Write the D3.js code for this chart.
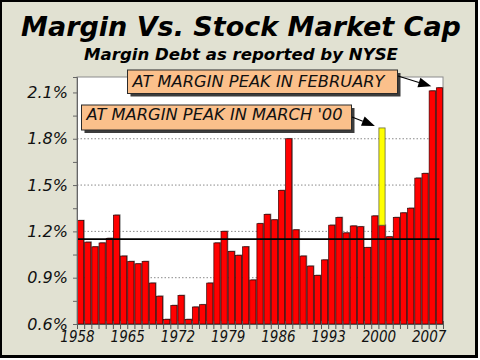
<!DOCTYPE html>
<html><head><meta charset="utf-8">
<script src="https://cdn.jsdelivr.net/npm/d3@7"></script>
<style>
html,body{margin:0;padding:0;background:#fff;}
svg{display:block;}
</style></head><body>
<svg id="chart" width="480" height="360"></svg>
<script>
// ---- data ----
const years = [1958,1959,1960,1961,1962,1963,1964,1965,1966,1967,
  1968,1969,1970,1971,1972,1973,1974,1975,1976,1977,
  1978,1979,1980,1981,1982,1983,1984,1985,1986,1987,
  1988,1989,1990,1991,1992,1993,1994,1995,1996,1997,
  1998,1999,2000,2001,2002,2003,2004,2005,2006,2007,2008];
const marginRatio = [1.27,1.13,1.10,1.125,1.155,1.305,1.04,1.005,0.99,1.005,
  0.865,0.78,0.63,0.72,0.785,0.63,0.71,0.725,0.865,1.125,
  1.20,1.07,1.045,1.10,0.885,1.25,1.31,1.275,1.465,1.80,
  1.21,1.04,0.975,0.915,1.015,1.24,1.29,1.19,1.235,1.23,
  1.095,1.30,1.24,1.165,1.29,1.32,1.35,1.545,1.575,2.11,2.13];
const peakYears = [2000];
const peakValues = [1.87];
const averageValue = [1.15];
const xTickLabels = ["1958","1965","1972","1979","1986","1993","2000","2007"];
const yTickValues = [0.6,0.75,0.9,1.05,1.2,1.35,1.5,1.65,1.8,1.95,2.1];
const yLabelValues = [0.6,0.9,1.2,1.5,1.8,2.1];
const gridValues = [0.9,1.2,1.5,1.8];
const titleText = "Margin Vs. Stock Market Cap";
const subtitleText = "Margin Debt as reported by NYSE";
const noteFeb = "AT MARGIN PEAK IN FEBRUARY";
const noteMar = "AT MARGIN PEAK IN MARCH '00";

// ---- layout ----
const P = {left:77, right:443, top:77, bottom:324};
const svg = d3.select("#chart");
const FONT = "'DejaVu Sans', Verdana, sans-serif";
const FONTC = "'DejaVu Sans Condensed', 'DejaVu Sans', sans-serif";

// frame + background
svg.append("rect").attr("x",0).attr("y",0).attr("width",478).attr("height",358).attr("fill","#000");
svg.append("rect").attr("x",2).attr("y",2).attr("width",473).attr("height",353).attr("fill","#E1E1D2");

// titles
svg.append("text").attr("x",241).attr("y",36).attr("text-anchor","middle")
  .style("font-family",FONT).style("font-weight","bold").style("font-style","italic")
  .style("font-size","27px").attr("fill","#000").text(titleText);
svg.append("text").attr("x",241).attr("y",60).attr("text-anchor","middle")
  .style("font-family",FONT).style("font-weight","bold").style("font-style","italic")
  .style("font-size","16.6px").attr("fill","#000").text(subtitleText);

// plot area
svg.append("rect").attr("x",P.left).attr("y",P.top).attr("width",P.right-P.left).attr("height",P.bottom-P.top)
  .attr("fill","#fff").attr("stroke","#8c8c8c").attr("stroke-width",1);

const y = d3.scaleLinear().domain([0.6,2.2]).range([P.bottom,P.top]);
const x = d3.scaleBand().domain(years).range([P.left,P.right]).paddingInner(0.14).paddingOuter(0.07);
const xEdge = d3.scaleLinear().domain([years[0], years[years.length-1]+1]).range([P.left,P.right]);

// gridlines
svg.append("g").selectAll("line").data(gridValues).join("line")
  .attr("x1",P.left).attr("x2",P.right).attr("y1",d=>y(d)).attr("y2",d=>y(d))
  .attr("stroke","#8a8a8a").attr("stroke-width",1).attr("stroke-dasharray","1.5,2");

// bars
const bw = x.bandwidth();
const bars = svg.append("g");
bars.selectAll("rect.sh").data(years).join("rect").attr("class","sh")
  .attr("x",d=>x(d)+1.1).attr("y",(d,i)=>y(marginRatio[i])-0.8)
  .attr("width",bw).attr("height",(d,i)=>P.bottom-y(marginRatio[i])+0.8)
  .attr("fill","#8a8a8a");
bars.selectAll("rect.bar").data(years).join("rect").attr("class","bar")
  .attr("x",d=>x(d)).attr("y",(d,i)=>y(marginRatio[i]))
  .attr("width",bw).attr("height",(d,i)=>P.bottom-y(marginRatio[i]))
  .attr("fill","#FF0000").attr("stroke","#3a0000").attr("stroke-width",0.7);

// yellow peak segment stacked on the 2000 bar
bars.selectAll("rect.peak").data(peakYears).join("rect").attr("class","peak")
  .attr("x",d=>x(d)).attr("y",(d,i)=>y(peakValues[i]))
  .attr("width",bw).attr("height",(d,i)=>y(marginRatio[years.indexOf(d)])-y(peakValues[i]))
  .attr("fill","#FFFF00").attr("stroke","#6a6a40").attr("stroke-width",0.8);

// average line
svg.append("g").selectAll("line").data(averageValue).join("line")
  .attr("x1",P.left).attr("x2",x(years[years.length-1])+bw/2)
  .attr("y1",d=>y(d)).attr("y2",d=>y(d))
  .attr("stroke","#000").attr("stroke-width",1.6);

// x axis
const xAxis = d3.axisBottom(xEdge)
  .tickValues(years.concat([years[years.length-1]+1]))
  .tickSize(5).tickPadding(2)
  .tickFormat(d => xTickLabels.includes(String(d)) ? String(d) : "");
const gx = svg.append("g").attr("transform",`translate(0,${P.bottom})`).call(xAxis);
gx.select(".domain").attr("stroke","#555");
gx.selectAll(".tick line").attr("stroke","#555").attr("y1",-3);
gx.selectAll(".tick text").style("font-family",FONTC).style("font-stretch","condensed")
  .style("font-style","italic").style("font-size","15px").attr("fill","#111");

// y axis
const yAxis = d3.axisLeft(y).tickValues(yTickValues).tickSize(4).tickPadding(5)
  .tickFormat(d => yLabelValues.some(v=>Math.abs(v-d)<1e-6) ? d.toFixed(1)+"%" : "");
const gy = svg.append("g").attr("transform",`translate(${P.left},0)`).call(yAxis);
gy.select(".domain").attr("stroke","#666");
gy.selectAll(".tick line").attr("stroke","#666");
gy.selectAll(".tick text").style("font-family",FONT)
  .style("font-style","italic").style("font-size","16px").attr("fill","#111");

// callouts
function callout(bx,by,bwid,bh,txt,tx,ty){
  const g = svg.append("g");
  g.append("rect").attr("x",bx+3).attr("y",by+3).attr("width",bwid).attr("height",bh).attr("fill","#3c3c3c");
  g.append("rect").attr("x",bx).attr("y",by).attr("width",bwid).attr("height",bh)
    .attr("fill","#FBC08B").attr("stroke","#2a2a2a").attr("stroke-width",1);
  g.append("text").attr("x",tx).attr("y",ty).style("font-family",FONT).style("font-style","italic")
    .style("font-size","16.3px").attr("fill","#111").text(txt);
}
function arrow(x1,y1,x2,y2){
  const a = Math.atan2(y2-y1,x2-x1), L=13, Wd=5;
  const bxp = x2 - L*Math.cos(a), byp = y2 - L*Math.sin(a);
  svg.append("line").attr("x1",x1).attr("y1",y1).attr("x2",bxp).attr("y2",byp)
    .attr("stroke","#000").attr("stroke-width",1.2);
  svg.append("polygon").attr("points",[
    [x2,y2],
    [bxp + Wd*Math.sin(a), byp - Wd*Math.cos(a)],
    [bxp - Wd*Math.sin(a), byp + Wd*Math.cos(a)]
  ].map(p=>p.join(",")).join(" ")).attr("fill","#000");
}
callout(127.5,70,270,23.5,noteFeb,132.5,86.5);
callout(81.5,105,270,25,noteMar,86.5,119.8);
const last = years.length-1;
arrow(398,76, x(years[last])-5, y(marginRatio[last])-1.5);
arrow(352,117, x(peakYears[0])-4, y(peakValues[0])-2);
</script>
</body></html>
